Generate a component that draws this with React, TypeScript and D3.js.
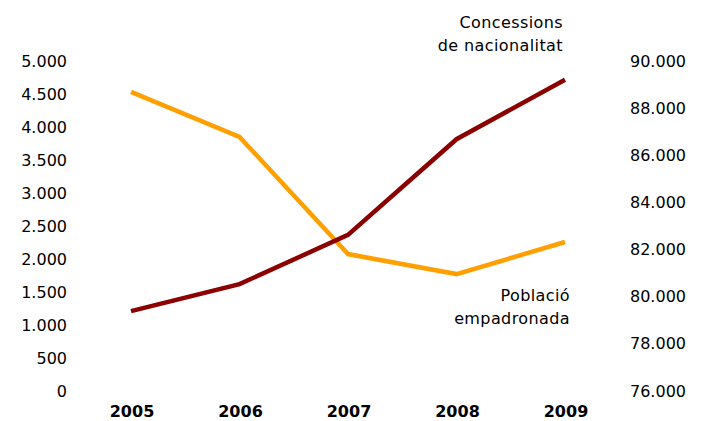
import React from "react";
import * as d3 from "d3";

// data
const years = ["2005", "2006", "2007", "2008", "2009"];
const concessions = [1210, 1620, 2365, 3815, 4715];
const poblacio = [88690, 86780, 81810, 80960, 82320];
const leftTicks = [0, 500, 1000, 1500, 2000, 2500, 3000, 3500, 4000, 4500, 5000];
const rightTicks = [76000, 78000, 80000, 82000, 84000, 86000, 88000, 90000];

const width = 704;
const height = 421;
const font = "'DejaVu Sans', Verdana, sans-serif";

// thousands separator is a dot (catalan)
const fmt = (v: number) => d3.format(",")(v).replace(/,/g, ".");

export default function App() {
  const x = d3.scalePoint<string>().domain(years).range([131, 565]);
  const yLeft = d3.scaleLinear().domain([0, 5000]).range([391, 61]);
  const yRight = d3.scaleLinear().domain([76000, 90000]).range([391, 61]);

  const lineLeft = d3
    .line<number>()
    .x((_, i) => x(years[i])!)
    .y((d) => yLeft(d));
  const lineRight = d3
    .line<number>()
    .x((_, i) => x(years[i])!)
    .y((d) => yRight(d));

  return (
    <div style={{ position: "absolute", left: 0, top: 0 }}>
      <svg width={width} height={height} style={{ display: "block", background: "#fff" }}>
        <g fontFamily={font} fontSize={16} fill="#000">
          {leftTicks.map((t) => (
            <text key={"l" + t} x={67} y={yLeft(t)} dy="0.35em" textAnchor="end">
              {fmt(t)}
            </text>
          ))}
          {rightTicks.map((t) => (
            <text key={"r" + t} x={630} y={yRight(t)} dy="0.35em" textAnchor="start">
              {fmt(t)}
            </text>
          ))}
          {years.map((yr) => (
            <text key={yr} x={x(yr)! + 1} y={411} dy="0.35em" textAnchor="middle" fontWeight="bold">
              {yr}
            </text>
          ))}
        </g>

        <path d={lineRight(poblacio)!} fill="none" stroke="#FFA000" strokeWidth={4.5} strokeLinejoin="miter" />
        <path d={lineLeft(concessions)!} fill="none" stroke="#8B0000" strokeWidth={4.5} strokeLinejoin="miter" />

        <g fontFamily={font} fontSize={16} fill="#000" textAnchor="end" letterSpacing="0.4">
          <text x={563} y={28}>Concessions</text>
          <text x={563} y={51}>de nacionalitat</text>
          <text x={570} y={301}>Població</text>
          <text x={570} y={324}>empadronada</text>
        </g>
      </svg>
    </div>
  );
}
